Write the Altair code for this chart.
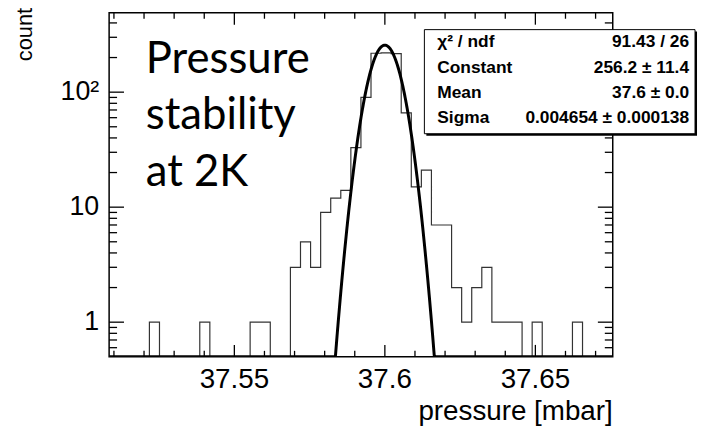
import altair as alt
import pandas as pd

# ---------------- data ----------------
x_range = [37.5084, 37.6757]          # histogram axis range (mbar)
n_bins = 50
counts = [0, 0, 0, 0, 1, 0, 0, 0, 0, 1,
          0, 0, 0, 0, 1, 1, 0, 0, 3, 5,
          3, 9, 12, 14, 33, 90, 218, 220, 216, 66,
          15, 21, 7, 7, 2, 1, 2, 3, 1, 1,
          1, 0, 1, 0, 0, 0, 1, 0, 0, 0]

fit_constant = 256.2
fit_mean = 37.6
fit_sigma = 0.004654

stat_names = ["\u03c7\u00b2 / ndf", "Constant", "Mean", "Sigma"]
stat_values = ["91.43 / 26", "256.2 \u00b1 11.4", "37.6 \u00b1 0.0", "0.004654 \u00b1 0.000138"]

x_major = [37.55, 37.6, 37.65]
x_labels = ["37.55", "37.6", "37.65"]
x_minor = [37.51, 37.52, 37.53, 37.54, 37.56, 37.57, 37.58, 37.59,
           37.61, 37.62, 37.63, 37.64, 37.66, 37.67]
y_major = [1, 10, 100]
y_labels = ["1", "10", "10\u00b2"]
y_minor = [0.6, 0.7, 0.8, 0.9, 2, 3, 4, 5, 6, 7, 8, 9,
           20, 30, 40, 50, 60, 70, 80, 90, 200, 300, 400]
y_range = [0.5, 490]

x_title = "pressure [mbar]"
y_title = "count"
annotation = ["Pressure", "stability", "at 2K"]

# ---------------- layout ----------------
W, H = 508, 347
AXF = "Liberation Sans"

xs = alt.Scale(domain=x_range, nice=False, zero=False)
ys = alt.Scale(type="log", domain=y_range, nice=False)

bw = (x_range[1] - x_range[0]) / n_bins
hist_df = pd.DataFrame({
    "edge": [x_range[0] + i * bw for i in range(n_bins + 1)],
    "count": counts + [counts[-1]],
})

hist = alt.Chart(hist_df).transform_calculate(
    yc="max(datum.count, 0.5)"
).mark_line(interpolate="step-after", color="#333333", strokeWidth=1.2, clip=True).encode(
    x=alt.X("edge:Q", scale=xs, axis=None),
    y=alt.Y("yc:Q", scale=ys, axis=None),
)

fit = alt.Chart(alt.sequence(x_range[0], x_range[1] + 0.0001, 0.0001, as_="p")).transform_calculate(
    g=f"max({fit_constant} * exp(-0.5 * pow((datum.p - {fit_mean}) / {fit_sigma}, 2)), 0.5)"
).mark_line(color="black", strokeWidth=3, clip=True).encode(
    x=alt.X("p:Q", scale=xs, axis=None),
    y=alt.Y("g:Q", scale=ys, axis=None),
)


def xticks(vals, length, top):
    y0 = 0 if top else H
    y1 = length if top else H - length
    return alt.Chart(pd.DataFrame({"v": vals})).mark_rule(color="black", strokeWidth=1.3).encode(
        x=alt.X("v:Q", scale=xs, axis=None), y=alt.value(y0), y2=alt.value(y1))


def yticks(vals, length, right):
    x0 = W if right else 0
    x1 = W - length if right else length
    return alt.Chart(pd.DataFrame({"v": vals})).mark_rule(color="black", strokeWidth=1.3).encode(
        y=alt.Y("v:Q", scale=ys, axis=None), x=alt.value(x0), x2=alt.value(x1))


ticks = [
    xticks(x_major, 12, False), xticks(x_minor, 6, False),
    xticks(x_major, 12, True), xticks(x_minor, 6, True),
    yticks(y_major, 15, False), yticks(y_minor, 8, False),
    yticks(y_major, 15, True), yticks(y_minor, 8, True),
]

xlab = alt.Chart(pd.DataFrame({"v": x_major, "t": x_labels})).mark_text(
    font=AXF, fontSize=28, align="center", baseline="alphabetic", color="black").encode(
    x=alt.X("v:Q", scale=xs, axis=None), y=alt.value(H + 31), text="t:N")
ylab = alt.Chart(pd.DataFrame({"v": y_major, "t": y_labels})).mark_text(
    font=AXF, fontSize=27, align="right", baseline="middle", color="black").encode(
    y=alt.Y("v:Q", scale=ys, axis=None), x=alt.value(-10), text="t:N")

one = pd.DataFrame({"k": [0]})
xtit = alt.Chart(one).mark_text(text=x_title, font=AXF, fontSize=28, align="right",
                                baseline="alphabetic", color="black").encode(
    x=alt.value(W), y=alt.value(H + 64))
ytit = alt.Chart(one).mark_text(text=y_title, font=AXF, fontSize=22, align="right", angle=270,
                                baseline="alphabetic", color="black").encode(
    x=alt.value(-78), y=alt.value(-5))

bx0, bx1, by0, by1 = 318, 591, 17, 122
shadow = alt.Chart(one).mark_rect(color="black").encode(
    x=alt.value(bx0 + 2), x2=alt.value(bx1 + 2), y=alt.value(by0 + 2), y2=alt.value(by1 + 2))
box = alt.Chart(one).mark_rect(fill="white", stroke="black", strokeWidth=1).encode(
    x=alt.value(bx0), x2=alt.value(bx1), y=alt.value(by0), y2=alt.value(by1))

stat_layers = []
for i, (nm, vl) in enumerate(zip(stat_names, stat_values)):
    yb = 35 + 25.5 * i
    stat_layers.append(alt.Chart(one).mark_text(
        text=nm, font=AXF, fontSize=17.5, fontWeight="bold", align="left", baseline="alphabetic",
        color="black").encode(x=alt.value(331), y=alt.value(yb)))
    stat_layers.append(alt.Chart(one).mark_text(
        text=vl, font=AXF, fontSize=17.5, fontWeight="bold", align="right", baseline="alphabetic",
        color="black").encode(x=alt.value(585), y=alt.value(yb)))

label = alt.Chart(one).mark_text(
    text=annotation, font="Lato", fontSize=44, align="left", baseline="alphabetic",
    lineHeight=57, color="black").encode(x=alt.value(37), y=alt.value(60.5))

chart = alt.layer(hist, fit, *ticks, xlab, ylab, xtit, ytit, shadow, box, *stat_layers, label).properties(
    width=W, height=H,
    padding={"left": 102, "top": 3, "right": 86, "bottom": 70},
    autosize=alt.AutoSizeParams(type="none"),
    background="white",
).configure_view(stroke="black", strokeWidth=1.5)

chart.save("out.html", embed_options={"renderer": "svg", "actions": False})
